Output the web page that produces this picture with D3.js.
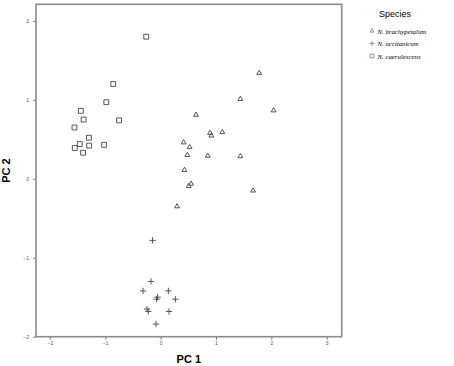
<!DOCTYPE html>
<html>
<head>
<meta charset="utf-8">
<script src="https://cdn.jsdelivr.net/npm/d3@7"></script>
<style>
	body { margin: 0; background: #fff; }
	svg { display: block; }
</style>
</head>
<body>
<div id="chart"></div>
<script>
// PCA scores
const brachyPC1 = [1.78, 1.44, 2.04, 0.64, 0.893, 0.917, 1.115, 0.416, 0.524, 0.483, 0.85, 1.44, 0.43, 0.55, 0.507, 0.297, 1.67];
const brachyPC2 = [1.34, 1.01, 0.865, 0.81, 0.58, 0.546, 0.59, 0.46, 0.40, 0.30, 0.29, 0.285, 0.11, -0.063, -0.093, -0.35, -0.15];

const occitPC1 = [-0.145, -0.174, -0.318, 0.14, -0.054, -0.072, 0.266, -0.246, -0.222, 0.152, -0.083];
const occitPC2 = [-0.78, -1.30, -1.42, -1.42, -1.50, -1.525, -1.525, -1.65, -1.68, -1.68, -1.84];

const caerulPC1 = [-0.26, -0.855, -0.98, -1.44, -1.39, -0.75, -1.555, -1.295, -1.46, -1.29, -1.02, -1.55, -1.40];
const caerulPC2 = [1.80, 1.20, 0.97, 0.86, 0.75, 0.74, 0.65, 0.52, 0.44, 0.42, 0.43, 0.39, 0.33];

const speciesNames = ["N. brachypetalum", "N. occitanicum", "N. caerulescens"];
const xTicks = [-2, -1, 0, 1, 2, 3];
const yTicks = [-2, -1, 0, 1, 2];

const width = 454;
const height = 366;
const margin = { top: 4.3, right: 112.3, bottom: 29.3, left: 36 };

const svg = d3.select("#chart")
	.append("svg")
	.attr("width", width)
	.attr("height", height);

const xScale = d3.scaleLinear()
	.domain([-2.25, 3.27])
	.range([margin.left, width - margin.right]);

const yScale = d3.scaleLinear()
	.domain([-2, 2.21])
	.range([height - margin.bottom, margin.top]);

const symbolTypes = [d3.symbolTriangle2, d3.symbolPlus, d3.symbolSquare2];
const symbolSizes = [17, 15, 30];

const groups = [
	{ xs: brachyPC1, ys: brachyPC2 },
	{ xs: occitPC1, ys: occitPC2 },
	{ xs: caerulPC1, ys: caerulPC2 },
];

// axes
const yAxis = svg.append("g")
	.attr("transform", `translate(${margin.left} 0)`)
	.call(d3.axisLeft(yScale).tickValues(yTicks).tickFormat(d3.format("d")).tickSize(3).tickPadding(4).tickSizeOuter(0));

const xAxis = svg.append("g")
	.attr("transform", `translate(0 ${height - margin.bottom})`)
	.call(d3.axisBottom(xScale).tickValues(xTicks).tickFormat(d3.format("d")).tickSize(3).tickPadding(2).tickSizeOuter(0));

[yAxis, xAxis].forEach((ax) => {
	ax.select(".domain").remove();
	ax.selectAll("line").attr("stroke", "#777");
	ax.selectAll("text")
		.attr("fill", "#555")
		.style("font-family", "Arial, 'Liberation Sans', sans-serif")
		.style("font-size", "5px");
});

// frame
svg.append("rect")
	.attr("x", margin.left)
	.attr("y", margin.top)
	.attr("width", width - margin.right - margin.left)
	.attr("height", height - margin.bottom - margin.top)
	.attr("fill", "none")
	.attr("stroke", "#8a8a8a")
	.attr("stroke-width", 1.6);

// points
const pointsLayer = svg.append("g").attr("class", "points");
groups.forEach((g, i) => {
	pointsLayer.append("g")
		.selectAll("path")
		.data(g.xs.map((x, j) => [x, g.ys[j]]))
		.enter()
		.append("path")
		.attr("transform", (d) => `translate(${xScale(d[0])} ${yScale(d[1])})`)
		.attr("d", d3.symbol().type(symbolTypes[i]).size(symbolSizes[i]))
		.attr("fill", "none")
		.attr("stroke", "#444")
		.attr("stroke-width", 0.9);
});

// axis titles
svg.append("text")
	.attr("x", (margin.left + width - margin.right) / 2)
	.attr("y", 363)
	.attr("text-anchor", "middle")
	.style("font-family", "Arial, 'Liberation Sans', sans-serif")
	.style("font-weight", "bold")
	.style("font-size", "11px")
	.text("PC 1");

svg.append("text")
	.attr("transform", `translate(10 ${(margin.top + height - margin.bottom) / 2}) rotate(-90)`)
	.attr("text-anchor", "middle")
	.style("font-family", "Arial, 'Liberation Sans', sans-serif")
	.style("font-weight", "bold")
	.style("font-size", "11px")
	.text("PC 2");

// legend
const legend = svg.append("g").attr("transform", "translate(372 0)");

legend.append("text")
	.attr("x", 7)
	.attr("y", 17)
	.style("font-family", "Arial, 'Liberation Sans', sans-serif")
	.style("font-size", "9px")
	.text("Species");

speciesNames.forEach((name, i) => {
	const row = legend.append("g").attr("transform", `translate(0, ${31 + i * 12.5})`);

	row.append("path")
		.attr("d", d3.symbol().type(symbolTypes[i]).size(symbolSizes[i] * 0.6))
		.attr("fill", "none")
		.attr("stroke", "#666")
		.attr("stroke-width", 0.7);

	row.append("text")
		.attr("x", 5.5)
		.attr("y", 2.5)
		.style("font-family", "'Liberation Serif', 'Times New Roman', serif")
		.style("font-style", "italic")
		.style("font-size", "6.8px")
		.text(name);
});
</script>
</body>
</html>
